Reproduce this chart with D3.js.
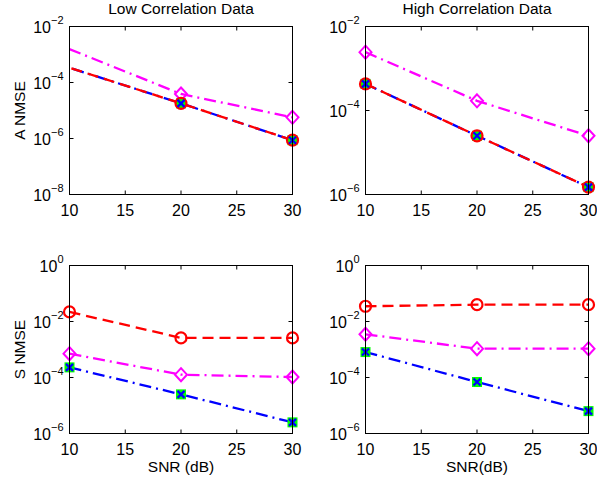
<!DOCTYPE html>
<html>
<head>
<meta charset="utf-8">
<script src="https://cdn.jsdelivr.net/npm/d3@7"></script>
<style>
  body { margin: 0; background: #fff; }
  svg { display: block; font-family: "Liberation Sans", Arial, sans-serif; }
</style>
</head>
<body>
<div id="chart"></div>
<script>
// x values (SNR in dB); in the low-correlation A panel the first point lies left of the axis and gets clipped
var snr = [10, 20, 30];
var snrLowA = [0, 20, 30];
var xTicks = [10, 15, 20, 25, 30];

// A NMSE, low correlation
var aLowRed = [6.3e-3, 1.8e-5, 8.7e-7];
var aLowGreen = [6.3e-3, 1.8e-5, 8.7e-7];
var aLowBlue = [6.3e-3, 1.8e-5, 8.7e-7];
var aLowMagenta = [6.2e-2, 3.9e-5, 5.7e-6];

// A NMSE, high correlation
var aHighRed = [4.3e-4, 2.5e-5, 1.5e-6];
var aHighGreen = [4.3e-4, 2.5e-5, 1.5e-6];
var aHighBlue = [4.3e-4, 2.5e-5, 1.5e-6];
var aHighMagenta = [2.45e-3, 1.7e-4, 2.5e-5];

// S NMSE, low correlation
var sLowRed = [2.2e-2, 2.6e-3, 2.6e-3];
var sLowGreen = [2.3e-4, 2.5e-5, 2.5e-6];
var sLowBlue = [2.3e-4, 2.5e-5, 2.5e-6];
var sLowMagenta = [7.1e-4, 1.26e-4, 1.04e-4];

// S NMSE, high correlation
var sHighRed = [3.5e-2, 4.0e-2, 4.0e-2];
var sHighGreen = [8.1e-4, 6.9e-5, 6.3e-6];
var sHighBlue = [8.1e-4, 6.9e-5, 6.3e-6];
var sHighMagenta = [3.5e-3, 1.07e-3, 1.07e-3];

// y tick exponents per panel
var yTicksLowA = [-2, -4, -6, -8];
var yTicksHighA = [-2, -4, -6];
var yTicksS = [0, -2, -4, -6];

var W = 597, H = 480;
var cols = [{x0: 69.5, x1: 292.5}, {x0: 365.5, x1: 588.5}];
var rows = [{y0: 26.5, y1: 194.5}, {y0: 265.5, y1: 433.5}];

var panels = [
  {col: 0, row: 0, title: "Low Correlation Data", ylabel: "A NMSE", xlabel: null,
   yTicks: yTicksLowA, x: snrLowA, red: aLowRed, green: aLowGreen, blue: aLowBlue, magenta: aLowMagenta},
  {col: 1, row: 0, title: "High Correlation Data", ylabel: null, xlabel: null,
   yTicks: yTicksHighA, x: snr, red: aHighRed, green: aHighGreen, blue: aHighBlue, magenta: aHighMagenta},
  {col: 0, row: 1, title: null, ylabel: "S NMSE", xlabel: "SNR (dB)",
   yTicks: yTicksS, x: snr, red: sLowRed, green: sLowGreen, blue: sLowBlue, magenta: sLowMagenta},
  {col: 1, row: 1, title: null, ylabel: null, xlabel: "SNR(dB)",
   yTicks: yTicksS, x: snr, red: sHighRed, green: sHighGreen, blue: sHighBlue, magenta: sHighMagenta}
];

var svg = d3.select("#chart").append("svg")
  .attr("width", W)
  .attr("height", H);

var tickLen = 4;

panels.forEach(function(p, i) {
  var c = cols[p.col], r = rows[p.row];
  var x = d3.scaleLinear().domain([10, 30]).range([c.x0, c.x1]);
  var y = d3.scaleLog()
    .domain([Math.pow(10, d3.min(p.yTicks)), Math.pow(10, d3.max(p.yTicks))])
    .range([r.y1, r.y0]);

  var g = svg.append("g");

  g.append("clipPath").attr("id", "clip" + i)
    .append("rect")
    .attr("x", c.x0).attr("y", r.y0)
    .attr("width", c.x1 - c.x0).attr("height", r.y1 - r.y0);

  // x ticks (inward, top and bottom)
  xTicks.forEach(function(t) {
    g.append("line").attr("x1", x(t)).attr("x2", x(t))
      .attr("y1", r.y1).attr("y2", r.y1 - tickLen).attr("stroke", "#000");
    g.append("line").attr("x1", x(t)).attr("x2", x(t))
      .attr("y1", r.y0).attr("y2", r.y0 + tickLen).attr("stroke", "#000");
    g.append("text")
      .attr("x", x(t)).attr("y", r.y1 + 21)
      .attr("text-anchor", "middle")
      .attr("font-size", 16)
      .text(t);
  });

  // y ticks (inward, left and right) with 10^n labels
  p.yTicks.forEach(function(e) {
    var v = Math.pow(10, e);
    g.append("line").attr("x1", c.x0).attr("x2", c.x0 + tickLen)
      .attr("y1", y(v)).attr("y2", y(v)).attr("stroke", "#000");
    g.append("line").attr("x1", c.x1).attr("x2", c.x1 - tickLen)
      .attr("y1", y(v)).attr("y2", y(v)).attr("stroke", "#000");
    var t = g.append("text")
      .attr("x", c.x0 - 6).attr("y", y(v) + 6)
      .attr("text-anchor", "end")
      .attr("font-size", 16);
    t.append("tspan").text("10");
    t.append("tspan").attr("dy", -9).attr("font-size", 11)
      .text(e === 0 ? "0" : "\u2212" + Math.abs(e));
  });

  var plot = g.append("g").attr("clip-path", "url(#clip" + i + ")");
  var markers = g.append("g");

  var line = d3.line()
    .x(function(d) { return x(d[0]); })
    .y(function(d) { return y(d[1]); });

  function pairs(vals) {
    return p.x.map(function(xv, k) { return [xv, vals[k]]; });
  }
  function pts(vals) {
    return pairs(vals).filter(function(d) { return d[0] >= 10 && d[0] <= 30; });
  }

  // lines
  plot.append("path").datum(pairs(p.magenta))
    .attr("d", line).attr("fill", "none")
    .attr("stroke", "#ff00ff").attr("stroke-width", 2.3)
    .attr("stroke-dasharray", "12,5,2,5");
  plot.append("path").datum(pairs(p.blue))
    .attr("d", line).attr("fill", "none")
    .attr("stroke", "#0000ff").attr("stroke-width", 2.3)
    .attr("stroke-dasharray", "12,5,2,5");
  plot.append("path").datum(pairs(p.red))
    .attr("d", line).attr("fill", "none")
    .attr("stroke", "#ff0000").attr("stroke-width", 2.3)
    .attr("stroke-dasharray", "11,6");

  // markers
  markers.selectAll(".dia").data(pts(p.magenta)).enter()
    .append("path")
    .attr("transform", function(d) { return "translate(" + x(d[0]) + "," + y(d[1]) + ")"; })
    .attr("d", "M0,-6.5L6,0L0,6.5L-6,0Z")
    .attr("fill", "none").attr("stroke", "#ff00ff").attr("stroke-width", 2);
  markers.selectAll(".sq").data(pts(p.green)).enter()
    .append("rect")
    .attr("x", function(d) { return x(d[0]) - 5; })
    .attr("y", function(d) { return y(d[1]) - 5; })
    .attr("width", 10).attr("height", 10)
    .attr("fill", "#00ff00");
  markers.selectAll(".circ").data(pts(p.red)).enter()
    .append("circle")
    .attr("cx", function(d) { return x(d[0]); })
    .attr("cy", function(d) { return y(d[1]); })
    .attr("r", 5.5)
    .attr("fill", "none").attr("stroke", "#ff0000").attr("stroke-width", 2.2);
  markers.selectAll(".cross").data(pts(p.blue)).enter()
    .append("path")
    .attr("transform", function(d) { return "translate(" + x(d[0]) + "," + y(d[1]) + ")"; })
    .attr("d", "M-3.5,-3.5L3.5,3.5M-3.5,3.5L3.5,-3.5")
    .attr("stroke", "#0000ff").attr("stroke-width", 2.2);

  // frame
  g.append("rect")
    .attr("x", c.x0).attr("y", r.y0)
    .attr("width", c.x1 - c.x0).attr("height", r.y1 - r.y0)
    .attr("fill", "none").attr("stroke", "#000");

  if (p.title) {
    g.append("text")
      .attr("x", (c.x0 + c.x1) / 2).attr("y", 14)
      .attr("text-anchor", "middle")
      .attr("font-size", 15.5)
      .text(p.title);
  }
  if (p.ylabel) {
    g.append("text")
      .attr("transform", "translate(25," + ((r.y0 + r.y1) / 2) + ") rotate(-90)")
      .attr("text-anchor", "middle")
      .attr("font-size", 15.5)
      .text(p.ylabel);
  }
  if (p.xlabel) {
    g.append("text")
      .attr("x", (c.x0 + c.x1) / 2).attr("y", r.y1 + 38)
      .attr("text-anchor", "middle")
      .attr("font-size", 15.5)
      .text(p.xlabel);
  }
});
</script>
</body>
</html>
